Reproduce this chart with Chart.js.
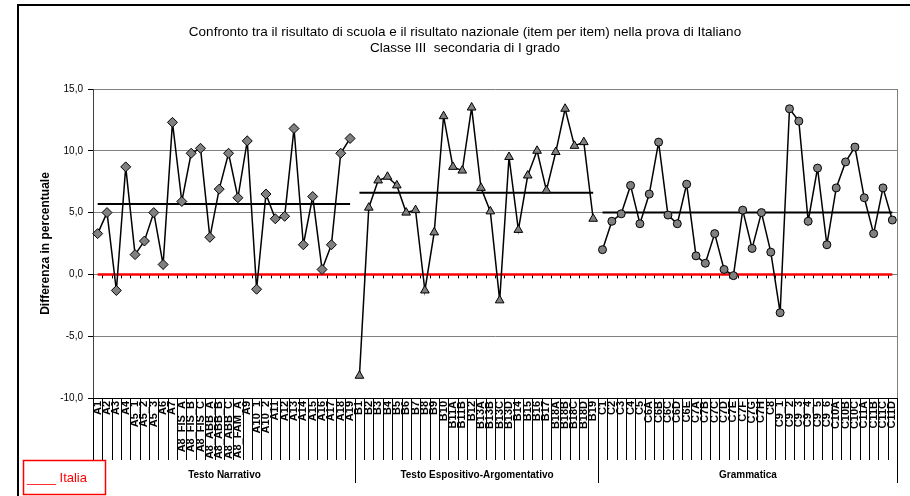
<!DOCTYPE html>
<html>
<head>
<meta charset="utf-8">
<script src="https://cdn.jsdelivr.net/npm/chart.js@4.4.1/dist/chart.umd.min.js"></script>
<style>
  html, body { margin: 0; padding: 0; background: #fff; }
  #wrap { width: 910px; height: 496px; position: relative; }
</style>
</head>
<body>
<div id="wrap"><canvas id="chart" width="910" height="496"></canvas></div>
<script>
// Item labels, one group per section of the test
const labelsA = ['A1', 'A2', 'A3', 'A4', 'A5_1', 'A5_2', 'A5_3', 'A6', 'A7', 'A8_FIS_A', 'A8_FIS_B', 'A8_FIS_C',
    'A8_ABB_A', 'A8_ABB_B', 'A8_ABB_C', 'A8_FAM_A', 'A9', 'A10_1', 'A10_2', 'A11', 'A12', 'A13', 'A14', 'A15',
    'A16', 'A17', 'A18', 'A19'];
const labelsB = ['B1', 'B2', 'B3', 'B4', 'B5', 'B6', 'B7', 'B8', 'B9', 'B10', 'B11A', 'B11B', 'B12', 'B13A', 'B13B',
    'B13C', 'B13D', 'B14', 'B15', 'B16', 'B17', 'B18A', 'B18B', 'B18C', 'B18D', 'B19'];
const labelsC = ['C1', 'C2', 'C3', 'C4', 'C5', 'C6A', 'C6B', 'C6C', 'C6D', 'C6E', 'C7A', 'C7B', 'C7C', 'C7D', 'C7E',
    'C7F', 'C7G', 'C7H', 'C8', 'C9_1', 'C9_2', 'C9_3', 'C9_4', 'C9_5', 'C9_6', 'C10A', 'C10B', 'C10C', 'C11A',
    'C11B', 'C11C', 'C11D'];

// Difference school - national, per item
const valuesA = [3.3, 5.0, -1.3, 8.7, 1.6, 2.7, 5.0, 0.8, 12.3, 5.9, 9.8, 10.2, 3.0, 6.9, 9.8, 6.2, 10.8, -1.2,
    6.5, 4.5, 4.7, 11.8, 2.4, 6.3, 0.4, 2.4, 9.8, 11.0];
const valuesB = [-8.2, 5.4, 7.6, 7.9, 7.2, 5.0, 5.2, -1.3, 3.4, 12.8, 8.7, 8.4, 13.5, 7.0, 5.1, -2.1, 9.5, 3.6,
    8.0, 10.0, 6.8, 9.9, 13.4, 10.4, 10.7, 4.5];
const valuesC = [2.0, 4.3, 4.9, 7.2, 4.1, 6.5, 10.7, 4.8, 4.1, 7.3, 1.5, 0.9, 3.3, 0.4, -0.1, 5.2, 2.1, 5.0, 1.8,
    -3.1, 13.4, 12.4, 4.3, 8.6, 2.4, 7.0, 9.1, 10.3, 6.2, 3.3, 7.0, 4.4];

// Section averages (horizontal black lines)
const meanA = 5.7;
const meanB = 6.6;
const meanC = 5.0;

const groupNames = ['Testo Narrativo', 'Testo Espositivo-Argomentativo', 'Grammatica'];
const titleLines = ['Confronto tra il risultato di scuola e il risultato nazionale (item per item) nella prova di Italiano',
    'Classe III  secondaria di I grado'];
const yTicks = [-10, -5, 0, 5, 10, 15];
const yTitle = 'Differenza in percentuale';
const italiaLabel = 'Italia';

const FONT = 'Arial, "Liberation Sans", sans-serif';
const labels = [...labelsA, ...labelsB, ...labelsC];
const nA = labelsA.length, nB = labelsB.length, nC = labelsC.length;

// pad a section's values with nulls so each section is its own line
function place(values, before, after) {
    return [...Array(before).fill(null), ...values, ...Array(after).fill(null)];
}

const decor = {
    id: 'decor',
    beforeDraw(chart) {
        const ctx = chart.ctx;
        ctx.save();
        ctx.fillStyle = '#fff';
        ctx.fillRect(0, 0, chart.width, chart.height);
        ctx.strokeStyle = '#000';
        ctx.lineWidth = 2;
        ctx.strokeRect(18, 5, chart.width + 20, chart.height + 20);
        ctx.fillStyle = '#000';
        ctx.font = '13.5px ' + FONT;
        ctx.textAlign = 'center';
        ctx.textBaseline = 'middle';
        ctx.fillText(titleLines[0], 465, 32);
        ctx.fillText(titleLines[1], 465, 48);
        ctx.restore();
    },
    beforeDatasetsDraw(chart) {
        const { ctx, scales: { x, y } } = chart;
        const half = (x.getPixelForTick(1) - x.getPixelForTick(0)) / 2;
        const y0 = y.getPixelForValue(0);
        ctx.save();
        ctx.strokeStyle = '#000';
        ctx.lineWidth = 1;
        ctx.beginPath();
        for (let i = 0; i <= labels.length; i++) {
            const bx = Math.round(x.getPixelForTick(Math.min(i, labels.length - 1)) + (i < labels.length ? -half : half)) + 0.5;
            ctx.moveTo(bx, y0);
            ctx.lineTo(bx, y0 + 4);
        }
        ctx.stroke();
        ctx.restore();
    },
    afterDraw(chart) {
        const { ctx, chartArea: a, scales: { x } } = chart;
        const half = (x.getPixelForTick(1) - x.getPixelForTick(0)) / 2;
        const n = labels.length;
        const bound = i => Math.round(i < n ? x.getPixelForTick(i) - half : x.getPixelForTick(n - 1) + half) + 0.5;
        ctx.save();
        // right edge of plot
        ctx.strokeStyle = '#808080';
        ctx.lineWidth = 1;
        ctx.beginPath();
        ctx.moveTo(bound(n), a.top);
        ctx.lineTo(bound(n), a.bottom);
        ctx.stroke();
        // category table under the plot
        ctx.strokeStyle = '#000';
        ctx.beginPath();
        ctx.moveTo(a.left, Math.round(a.bottom) + 0.5);
        ctx.lineTo(bound(n), Math.round(a.bottom) + 0.5);
        const groupEnds = [nA, nA + nB, n];
        for (let i = 0; i <= n; i++) {
            ctx.moveTo(bound(i), a.bottom);
            ctx.lineTo(bound(i), groupEnds.includes(i) ? a.bottom + 85 : a.bottom + 62);
        }
        ctx.stroke();
        ctx.fillStyle = '#000';
        ctx.font = 'bold 10px ' + FONT;
        ctx.textAlign = 'center';
        ctx.textBaseline = 'middle';
        let start = 0;
        groupEnds.forEach((end, k) => {
            ctx.fillText(groupNames[k], (bound(start) + bound(end)) / 2, a.bottom + 77);
            start = end;
        });
        // legend box
        ctx.strokeStyle = '#ff0000';
        ctx.lineWidth = 1.5;
        ctx.strokeRect(23.5, 460.5, 82, 34);
        ctx.fillStyle = '#ff0000';
        ctx.font = '13px ' + FONT;
        ctx.textAlign = 'left';
        ctx.textBaseline = 'alphabetic';
        ctx.fillText('____ ' + italiaLabel, 27, 482);
        ctx.restore();
    }
};

const seriesStyle = {
    borderColor: '#000',
    borderWidth: 1.5,
    backgroundColor: '#808080',
    pointBorderColor: '#000',
    pointBorderWidth: 1,
    tension: 0,
    spanGaps: false
};
const meanStyle = { borderColor: '#000', borderWidth: 2, pointRadius: 0, tension: 0 };

new Chart(document.getElementById('chart'), {
    type: 'line',
    data: {
        labels: labels,
        datasets: [
            { ...seriesStyle, label: 'Testo Narrativo', data: place(valuesA, 0, nB + nC), pointStyle: 'rectRot', pointRadius: 5 },
            { ...seriesStyle, label: 'Testo Espositivo-Argomentativo', data: place(valuesB, nA, nC), pointStyle: 'triangle', pointRadius: 5 },
            { ...seriesStyle, label: 'Grammatica', data: place(valuesC, nA + nB, 0), pointStyle: 'circle', pointRadius: 4 },
            { ...meanStyle, label: 'Media A', data: place(Array(nA).fill(meanA), 0, nB + nC) },
            { ...meanStyle, label: 'Media B', data: place(Array(nB).fill(meanB), nA, nC) },
            { ...meanStyle, label: 'Media C', data: place(Array(nC).fill(meanC), nA + nB, 0) },
            { label: italiaLabel, data: Array(labels.length).fill(0), borderColor: '#ff0000', borderWidth: 2.5, pointRadius: 0 }
        ]
    },
    options: {
        responsive: false,
        devicePixelRatio: 1,
        animation: false,
        layout: { padding: { left: 33, right: 13, top: 89, bottom: 0 } },
        plugins: { legend: { display: false }, tooltip: { enabled: false }, title: { display: false } },
        scales: {
            x: {
                type: 'category',
                offset: true,
                grid: { display: false, drawTicks: false },
                border: { display: false },
                ticks: {
                    autoSkip: false,
                    minRotation: 90,
                    maxRotation: 90,
                    padding: 3,
                    color: '#000',
                    font: { family: FONT, size: 11, weight: 'bold' }
                },
                afterFit(scale) { scale.height = 98; }
            },
            y: {
                min: -10,
                max: 15,
                afterBuildTicks(scale) { scale.ticks = yTicks.map(v => ({ value: v })); },
                grid: { color: '#808080', lineWidth: 1, tickColor: '#000', tickLength: 5 },
                border: { color: '#404040', width: 1 },
                ticks: {
                    padding: 5,
                    color: '#000',
                    font: { family: FONT, size: 10 },
                    callback: v => v.toFixed(1).replace('.', ',')
                },
                title: {
                    display: true,
                    text: yTitle,
                    color: '#000',
                    font: { family: FONT, size: 12, weight: 'bold' },
                    padding: { top: 5, bottom: 4 }
                },
                afterFit(scale) { scale.width = 60; }
            }
        }
    },
    plugins: [decor]
});
</script>
</body>
</html>
